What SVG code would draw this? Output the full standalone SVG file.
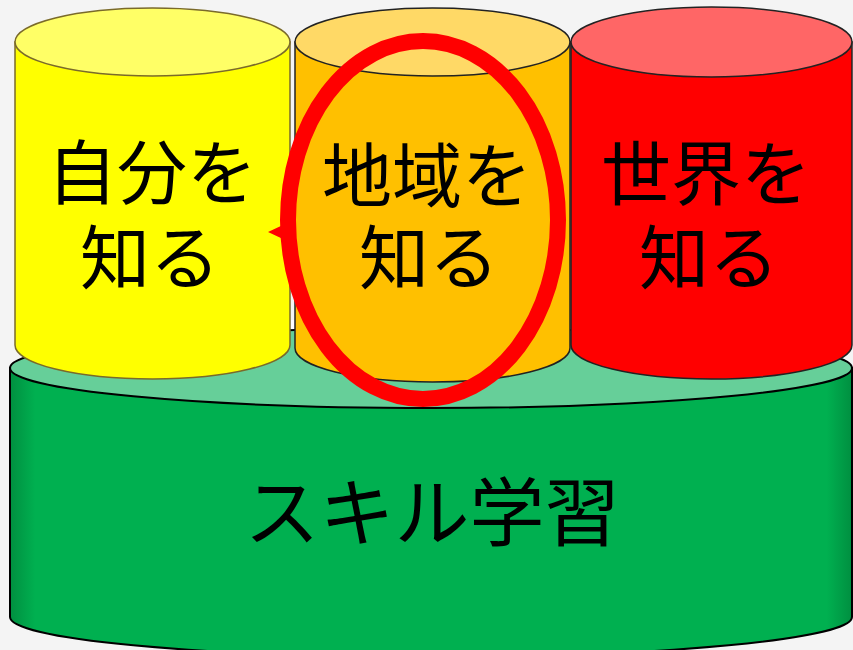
<svg xmlns="http://www.w3.org/2000/svg" width="853" height="650" viewBox="0 0 853 650">
  <style>
    .lbl { font-family: "Noto Sans CJK JP", "Noto Sans", sans-serif; font-size: 70px; fill: #000; text-anchor: middle; }
    .big { font-size: 75px; }
  </style>
  <defs>
    <linearGradient id="gside" x1="0" y1="0" x2="1" y2="0">
      <stop offset="0" stop-color="#008f40"/>
      <stop offset="0.03" stop-color="#00B050"/>
      <stop offset="0.97" stop-color="#00B050"/>
      <stop offset="1" stop-color="#008f40"/>
    </linearGradient>
  </defs>
  <rect width="853" height="650" fill="#f4f4f4"/>
  <rect x="285" y="320" width="15" height="40" fill="#ffffff"/>

  <g id="skill">
    <path d="M10,368 V617 A421,40 0 0 0 852,617 V368 Z" fill="url(#gside)" stroke="#000" stroke-width="2"/>
    <ellipse cx="431" cy="368" rx="421" ry="40" fill="#66CF99" stroke="#000" stroke-width="2"/>
    <text class="lbl big" x="432" y="540">スキル学習</text>
  </g>

  <g id="self">
    <path d="M15,42 V345 A137.5,34 0 0 0 290,345 V42 Z" fill="#FFFF00" stroke="#7a6a2a" stroke-width="1.5"/>
    <ellipse cx="152.5" cy="42" rx="137.5" ry="34" fill="#FFFF66" stroke="#7a6a2a" stroke-width="1.5"/>
    <text class="lbl"><tspan x="152" y="199">自分を</tspan><tspan x="150" y="284">知る</tspan></text>
  </g>

  <g id="region">
    <path d="M295,42 V348 A137.5,34 0 0 0 570,348 V42 Z" fill="#FFC000" stroke="#222" stroke-width="1.5"/>
    <ellipse cx="432.5" cy="42" rx="137.5" ry="34" fill="#FFD966" stroke="#222" stroke-width="1.5"/>
    <text class="lbl"><tspan x="427" y="202">地域を</tspan><tspan x="429" y="284">知る</tspan></text>
  </g>

  <g id="world">
    <path d="M571,42 V345 A140.5,34 0 0 0 852,345 V42 Z" fill="#FF0000" stroke="#222" stroke-width="1.5"/>
    <ellipse cx="711.5" cy="42" rx="140.5" ry="35" fill="#FF6666" stroke="#222" stroke-width="1.5"/>
    <text class="lbl"><tspan x="706" y="200">世界を</tspan><tspan x="709" y="284">知る</tspan></text>
  </g>

  <g id="highlight">
    <ellipse cx="423" cy="220" rx="135" ry="179" fill="none" stroke="#FF0000" stroke-width="16"/>
    <path d="M268,232 L283,225 L283,239 Z" fill="#FF0000"/>
  </g>
</svg>
